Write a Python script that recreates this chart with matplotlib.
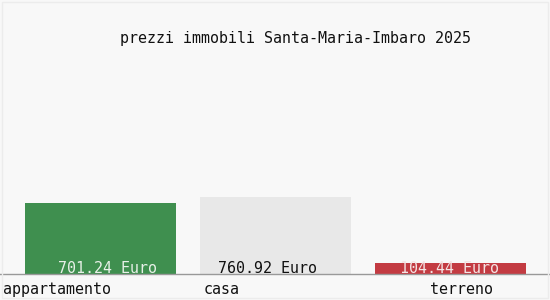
import matplotlib
matplotlib.use("Agg")
import matplotlib.pyplot as plt
from matplotlib.patches import Rectangle

# data
categories = ["appartamento", "casa", "terreno"]
values = [701.24, 760.92, 104.44]
value_labels = ["701.24 Euro", "760.92 Euro", "104.44 Euro"]
title = "prezzi immobili Santa-Maria-Imbaro 2025"

bar_colors = ["#3f8f4f", "#e8e8e8", "#c33b42"]
text_colors = ["#e8f0e8", "#111111", "#f4e4e4"]
bg = "#f8f8f8"
mono = ["DejaVu Sans Mono"]

fig = plt.figure(figsize=(5.5, 3.0), dpi=100, facecolor=bg)
# axes: baseline at y=274 px from top, 154 px tall
ax = fig.add_axes([0, 26 / 300, 1, 154 / 300])
ax.set_facecolor(bg)

x = list(range(len(categories)))
ax.bar(x, values, width=151 / 175, color=bar_colors, zorder=2)
ax.set_xlim(-100.5 / 175, 2 + 99.5 / 175)
ax.set_ylim(0, max(values) * 2)
for s in ["top", "right", "left"]:
    ax.spines[s].set_visible(False)
ax.spines["bottom"].set_color("#999999")
ax.spines["bottom"].set_linewidth(1)
ax.set_xticks([])
ax.set_yticks([])

# value labels inside bars, near the bottom (small per-bar nudges in px)
value_shift = [7.5, -7.5, -1.5]
for i, (lab, c, dx) in enumerate(zip(value_labels, text_colors, value_shift)):
    ax.annotate(lab, (i, 0), xytext=(dx * 0.72, 4), textcoords="offset points",
                ha="center", va="center", fontsize=10.8, family=mono,
                color=c, zorder=3)

# category labels under the axis, left aligned like the original
label_shift = [-97.5, -71.5, -20.5]  # px from bar centre to text start
for i, (cat, dx) in enumerate(zip(categories, label_shift)):
    ax.annotate(cat, (i, 0), xytext=(dx * 0.72, -11), textcoords="offset points",
                ha="left", va="center", fontsize=10.8, family=mono,
                color="#111111", annotation_clip=False)

fig.text(0.538, 1 - 38 / 300, title, ha="center", va="center",
         fontsize=10.8, family=mono, color="#111111")

# faint frame around the picture
fig.patches.append(Rectangle((2 / 550, 2 / 300), 546 / 550, 296 / 300,
                             transform=fig.transFigure, fill=False,
                             edgecolor="#ececec", linewidth=1))

fig.savefig("out.png", dpi=100, facecolor=bg)
